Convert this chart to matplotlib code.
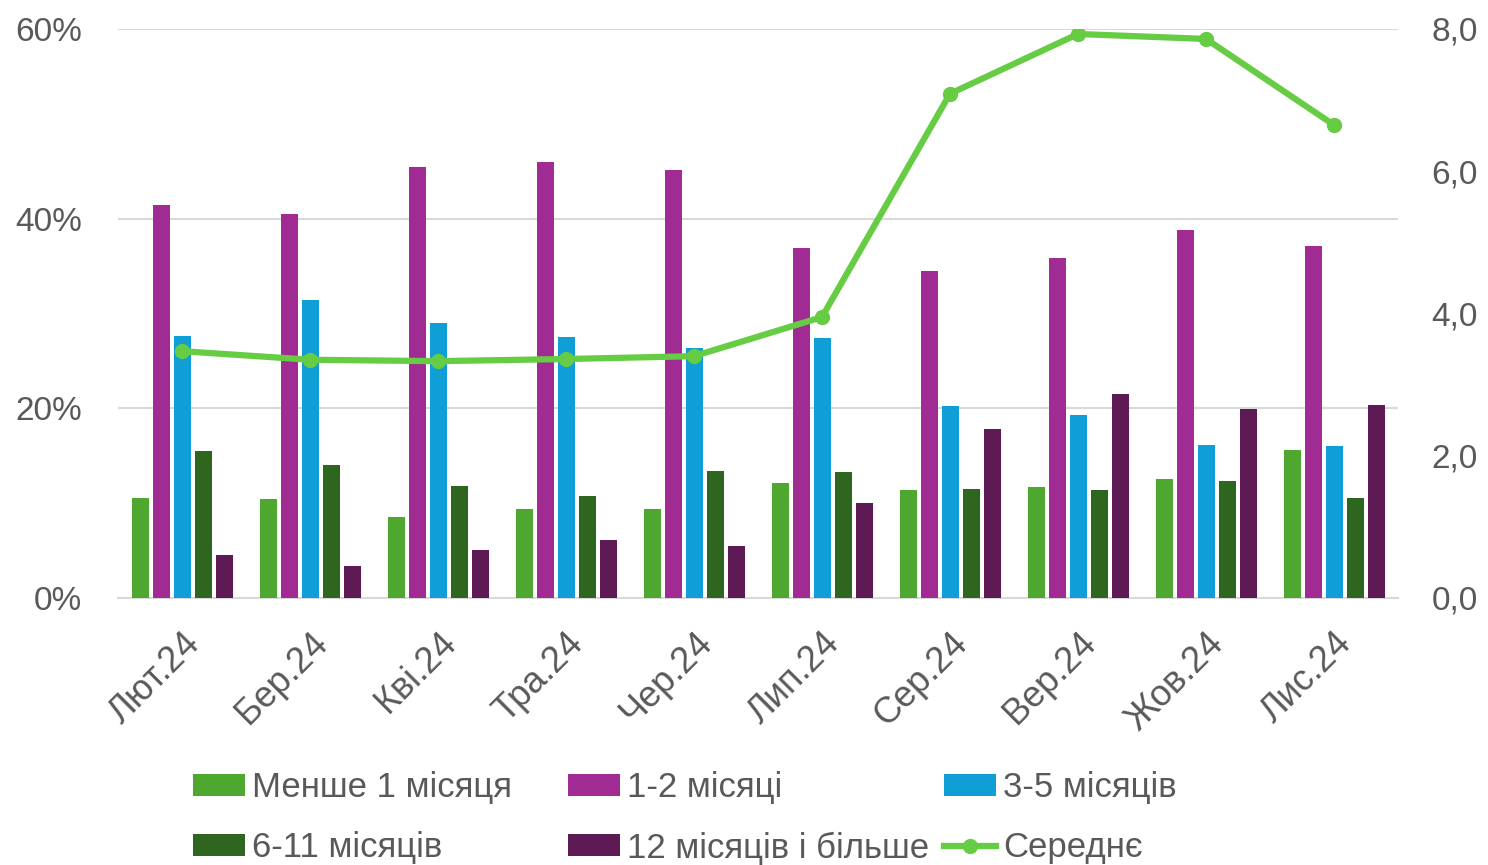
import matplotlib
matplotlib.use("Agg")
import matplotlib.pyplot as plt
import numpy as np
from matplotlib.patches import Patch
from matplotlib.lines import Line2D

months = ["Лют.24", "Бер.24", "Кві.24", "Тра.24", "Чер.24", "Лип.24", "Сер.24", "Вер.24", "Жов.24", "Лис.24"]
less_1 = [10.5, 10.4, 8.5, 9.4, 9.4, 12.1, 11.4, 11.7, 12.5, 15.6]
m1_2 = [41.4, 40.5, 45.4, 46.0, 45.1, 36.9, 34.5, 35.9, 38.8, 37.1]
m3_5 = [27.6, 31.4, 29.0, 27.5, 26.4, 27.4, 20.2, 19.3, 16.1, 16.0]
m6_11 = [15.5, 14.0, 11.8, 10.8, 13.4, 13.3, 11.5, 11.4, 12.3, 10.5]
m12p = [4.5, 3.4, 5.1, 6.1, 5.5, 10.0, 17.8, 21.5, 19.9, 20.4]
average = [3.47, 3.35, 3.33, 3.36, 3.40, 3.95, 7.09, 7.93, 7.86, 6.65]

series_labels = ["Менше 1 місяця", "1-2 місяці", "3-5 місяців", "6-11 місяців", "12 місяців і більше"]
line_label = "Середнє"
left_ticks = [0, 20, 40, 60]
right_ticks = [0, 2, 4, 6, 8]

colors = ["#4EA72E", "#A02B93", "#0F9ED5", "#2F661F", "#5E1A54"]
line_color = "#66CC44"
text_color = "#595959"
grid_color = "#D9D9D9"

tick_font = ["Liberation Sans", "DejaVu Sans"]
legend_font = ["Liberation Sans", "DejaVu Sans"]

fig = plt.figure(figsize=(14.88, 8.65), dpi=100)
ax = fig.add_axes([118/1488, 1-598/865, 1280/1488, (598-29)/865])
ax2 = ax.twinx()

x = np.arange(len(months))
step = 21/128
width = 17/128
all_series = [less_1, m1_2, m3_5, m6_11, m12p]
for i, (vals, c) in enumerate(zip(all_series, colors)):
    ax.bar(x + (i-2)*step, vals, width=width, color=c, zorder=3)

ax.set_xlim(-0.5, len(months)-0.5)
ax.set_ylim(0, 60)
ax.set_yticks(left_ticks)
ax.set_yticklabels([f"{t}%" for t in left_ticks])
ax.yaxis.grid(True, color=grid_color, linewidth=1.5, zorder=0)
ax.set_axisbelow(True)
for sp in ["top", "right", "left"]:
    ax.spines[sp].set_visible(False)
ax.spines["bottom"].set_color(grid_color)
ax.spines["bottom"].set_linewidth(1.5)
ax.tick_params(axis="y", length=0, pad=26, labelsize=24, labelcolor=text_color)
ax.set_xticks(x)
ax.set_xticklabels(months, rotation=45, ha="right", rotation_mode="anchor")
ax.tick_params(axis="x", length=0, pad=20, labelsize=26, labelcolor=text_color)
for lab in ax.get_xticklabels() + ax.get_yticklabels():
    lab.set_family(tick_font)

ax2.plot(x, average, color=line_color, linewidth=4.5, marker="o", markersize=10, zorder=5)
ax2.set_ylim(0, 8)
ax2.set_yticks(right_ticks)
ax2.set_yticklabels([f"{t:.1f}".replace(".", ",") for t in right_ticks])
for sp in ["top", "right", "left", "bottom"]:
    ax2.spines[sp].set_visible(False)
ax2.tick_params(axis="y", length=0, pad=24, labelsize=24, labelcolor=text_color)
for lab in ax2.get_yticklabels():
    lab.set_family(tick_font)

# legend entries placed individually (Excel-like fixed columns)
handles = [Patch(facecolor=c, edgecolor="none") for c in colors]
handles.append(Line2D([0], [0], color=line_color, linewidth=4.5, marker="o", markersize=10))
labels = series_labels + [line_label]
col_x = [193, 568, 944]
row_y = [788, 848]
for k, (h, l) in enumerate(zip(handles, labels)):
    r, cidx = divmod(k, 3)
    leg = fig.legend([h], [l], loc="center left",
                     bbox_to_anchor=(col_x[cidx]/1488, 1-row_y[r]/865),
                     frameon=False, borderpad=0, borderaxespad=0,
                     handlelength=1.5, handleheight=0.6, handletextpad=0.2,
                     prop={"family": legend_font, "size": 25})
    for t in leg.get_texts():
        t.set_color(text_color)

fig.savefig("out.png", dpi=100)
